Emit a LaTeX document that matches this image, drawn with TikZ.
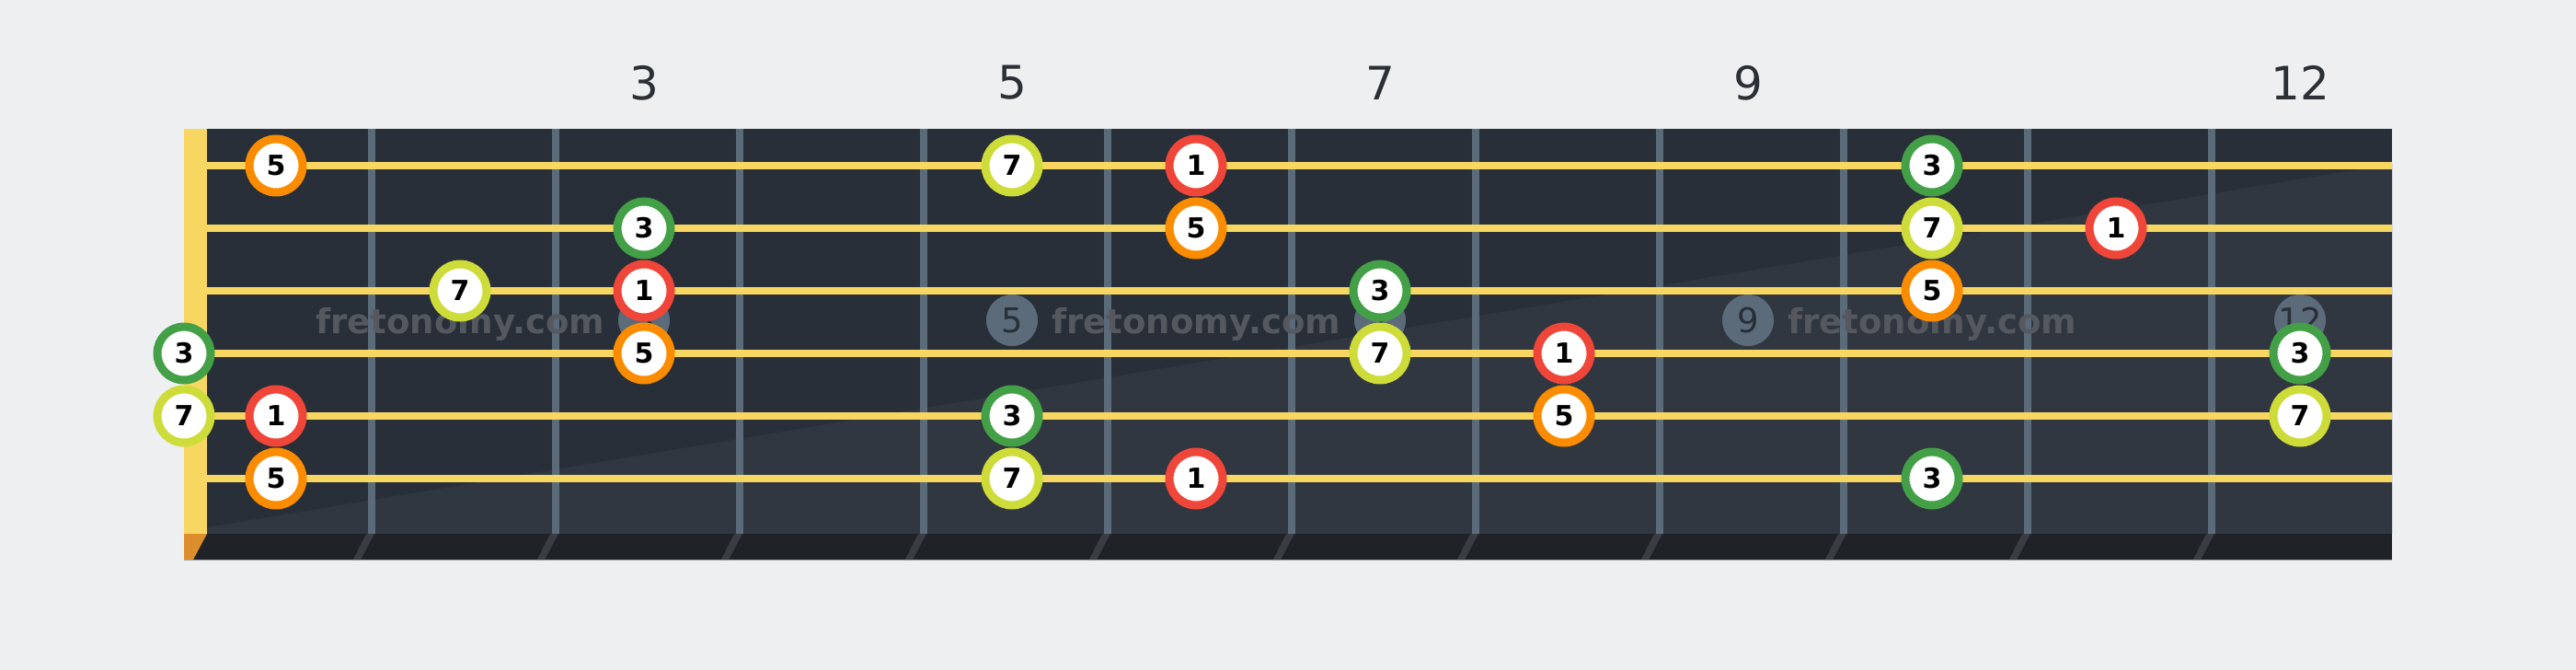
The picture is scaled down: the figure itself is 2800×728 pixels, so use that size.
\documentclass[tikz,border=0pt]{standalone}
\usepackage{fontspec}
\setmainfont{DejaVu Sans}
\usetikzlibrary{positioning}

\definecolor{paper}{HTML}{EEEFF1}
\definecolor{board}{HTML}{282F38}
\definecolor{boardlight}{HTML}{313740}
\definecolor{boardfoot}{HTML}{1F2327}
\definecolor{footshade}{HTML}{3A3E44}
\definecolor{footedge}{HTML}{9AA0A6}
\definecolor{fretgray}{HTML}{5B6B7A}
\definecolor{gut}{HTML}{F7D762}
\definecolor{nutfoot}{HTML}{DC8E2C}
\definecolor{numink}{HTML}{2B3036}
\definecolor{wmink}{HTML}{55595F}
\definecolor{rootred}{HTML}{F0463A}
\definecolor{thirdgreen}{HTML}{43A047}
\definecolor{fifthorange}{HTML}{FB8C00}
\definecolor{seventhlime}{HTML}{CDDC39}

\tikzset{
  deg/.style={
    circle,
    draw,
    line width=4.5pt,
    fill=white,
    minimum size=29pt,
    inner sep=0pt,
    text=black,
    font=\fontsize{15}{15}\selectfont\bfseries,
  },
  root/.style={
    deg,
    draw=rootred,
  },
  third/.style={
    deg,
    draw=thirdgreen,
  },
  fifth/.style={
    deg,
    draw=fifthorange,
  },
  seventh/.style={
    deg,
    draw=seventhlime,
  },
  inlay/.style={
    circle,
    fill=fretgray,
    minimum size=28pt,
    inner sep=0pt,
    text=board,
    font=\fontsize{18.5}{18.5}\selectfont,
  },
  fretno/.style={
    inner sep=0pt,
    text=numink,
    font=\fontsize{25}{25}\selectfont,
  },
  wmark/.style={
    inner sep=0pt,
    anchor=base west,
    text=wmink,
    font=\fontsize{18.5}{18.5}\selectfont\bfseries,
  },
  gstring/.style={
    gut,
    line width=4pt,
  },
  fretbar/.style={
    fretgray,
    line width=4pt,
  },
}

\begin{document}
\begin{tikzpicture}[x=0.5pt,y=-0.5pt]
		\useasboundingbox (0,0) rectangle (2800,728);
		\fill[paper] (0,0) rectangle (2800,728);

		% board
		\fill[board] (200,140) rectangle (2600,580);
		\fill[boardlight] (225,573) -- (2600,178) -- (2600,580) -- (225,580) -- cycle;
		\fill[boardfoot] (200,580) rectangle (2600,608);
		\draw[footedge, line width=0.5pt] (200,608.5) -- (2600,608.5);

		% nut
		\fill[gut] (200,140) rectangle (225,580);
		\fill[nutfoot] (200,580) -- (225,580) -- (210,608) -- (200,608) -- cycle;

		% frets
		\foreach \k in {1,...,11} {
			\pgfmathsetmacro{\fx}{200*\k+204}
			\draw[fretbar] (\fx,140) -- (\fx,580);
			\fill[footshade] (\fx-6,580) -- (\fx+3,580) -- (\fx-12,608) -- (\fx-20,608) -- cycle;
		}

		% inlays
		\node[inlay] (in3) at (700,348) {3};
		\node[inlay] (in5) at (1100,348) {5};
		\node[inlay] (in7) at (1500,348) {7};
		\node[inlay] (in9) at (1900,348) {9};
		\node[inlay] (in12) at (2500,348) {12};

		% watermarks
		\node[wmark] (wm1) at (343,362) {fretonomy.com};
		\node[wmark] (wm2) at (1143,362) {fretonomy.com};
		\node[wmark] (wm3) at (1943,362) {fretonomy.com};

		% strings
		\foreach \y in {180,248,316,384,452,520}
			\draw[gstring] (225,\y) -- (2600,\y);

		% fret numbers
		\node[fretno] (fn3) at (700,90) {3};
		\node[fretno] (fn5) at (1100,90) {5};
		\node[fretno] (fn7) at (1500,90) {7};
		\node[fretno] (fn9) at (1900,90) {9};
		\node[fretno] (fn12) at (2500,90) {12};

		% notes
		\node[fifth] (s1f1) at (300,180) {5};
		\node[seventh] (s1f5) at (1100,180) {7};
		\node[root] (s1f6) at (1300,180) {1};
		\node[third] (s1f10) at (2100,180) {3};

		\node[third] (s2f3) at (700,248) {3};
		\node[fifth] (s2f6) at (1300,248) {5};
		\node[seventh] (s2f10) at (2100,248) {7};
		\node[root] (s2f11) at (2300,248) {1};

		\node[seventh] (s3f2) at (500,316) {7};
		\node[root] (s3f3) at (700,316) {1};
		\node[third] (s3f7) at (1500,316) {3};
		\node[fifth] (s3f10) at (2100,316) {5};

		\node[third] (s4f0) at (200,384) {3};
		\node[fifth] (s4f3) at (700,384) {5};
		\node[seventh] (s4f7) at (1500,384) {7};
		\node[root] (s4f8) at (1700,384) {1};
		\node[third] (s4f12) at (2500,384) {3};

		\node[seventh] (s5f0) at (200,452) {7};
		\node[root] (s5f1) at (300,452) {1};
		\node[third] (s5f5) at (1100,452) {3};
		\node[fifth] (s5f8) at (1700,452) {5};
		\node[seventh] (s5f12) at (2500,452) {7};

		\node[fifth] (s6f1) at (300,520) {5};
		\node[seventh] (s6f5) at (1100,520) {7};
		\node[root] (s6f6) at (1300,520) {1};
		\node[third] (s6f10) at (2100,520) {3};
	\end{tikzpicture}
\end{document}
